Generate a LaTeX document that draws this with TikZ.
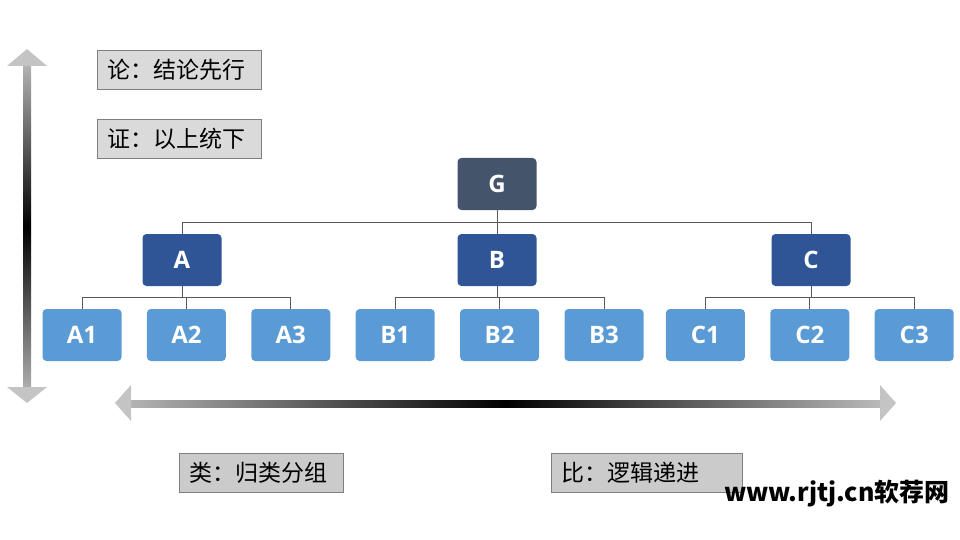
\documentclass[tikz,border=0pt]{standalone}
\usepackage{fontspec}
\setmainfont{Noto Sans CJK SC}
\newfontfamily\latinfont{Open Sans}
\usetikzlibrary{positioning}
\definecolor{slate}{HTML}{44546A}
\definecolor{navy}{HTML}{2F5597}
\definecolor{sky}{HTML}{5B9BD5}
\definecolor{boxgray}{HTML}{DADADA}
\definecolor{boxgraydark}{HTML}{CBCBCB}
\definecolor{rimgray}{HTML}{7F7F7F}
\definecolor{headgray}{HTML}{C4C4C4}

\begin{document}
\begin{tikzpicture}[x=1pt,y=-1pt,
	tag/.style={draw=rimgray, line width=1pt, fill=boxgray, anchor=north west,
		minimum height=39pt, inner ysep=0pt, inner xsep=10pt, text width=#1, align=left,
		font=\fontsize{23}{23}\selectfont},
	tree/.style={rounded corners=4pt, minimum width=79pt, minimum height=52pt,
		text=white, font=\latinfont\bfseries\fontsize{24}{24}\selectfont},
	leaf/.style={tree, fill=sky},
	wire/.style={draw=black!65, line width=0.8pt}]
		\useasboundingbox (0,0) rectangle (960,540);
		%\draw [help lines, step=20] (0,0) grid (960,540);
		% up-down arrow
		\shade [top color=gray!60, bottom color=gray!65, middle color=black] (23,66) rectangle (31,387);
		\fill [headgray] (27,49) -- (47,66) -- (7,66) -- cycle;
		\fill [headgray] (27,403) -- (47,387) -- (7,387) -- cycle;
		% left-right arrow
		\shade [left color=gray!60, right color=gray!55, middle color=black] (131,400) rectangle (880,407);
		\fill [headgray] (115,403) -- (131,385) -- (131,421) -- cycle;
		\fill [headgray] (896,403) -- (880,385) -- (880,421) -- cycle;
		% labels
		\node [tag=144pt] (lun) at (97,50) {论：结论先行};
		\node [tag=144pt] (zheng) at (97,119) {证：以上统下};
		\node [tag=144pt, fill=boxgraydark] (lei) at (179,453) {类：归类分组};
		\node [tag=171pt, fill=boxgraydark] (bi) at (551,453) {比：逻辑递进};
		% tree
		\node [tree, fill=slate] (G) at (497,184) {G};
		\node [tree, fill=navy] (A) at (182,260) {A};
		\node [tree, fill=navy] (B) at (497,260) {B};
		\node [tree, fill=navy] (C) at (811,260) {C};
		\node [leaf] (A1) at (82,335) {A1};
		\node [leaf, right=25pt of A1] (A2) {A2};
		\node [leaf, right=25pt of A2] (A3) {A3};
		\node [leaf, right=25pt of A3] (B1) {B1};
		\node [leaf, right=25pt of B1] (B2) {B2};
		\node [leaf, right=25pt of B2] (B3) {B3};
		\node [leaf, right=22pt of B3] (C1) {C1};
		\node [leaf, right=25pt of C1] (C2) {C2};
		\node [leaf, right=25pt of C2] (C3) {C3};
		\draw [wire] (G.south) -- ++(0,12) coordinate (gbus);
		\draw [wire] (gbus) -| (A.north);
		\draw [wire] (gbus) -| (C.north);
		\draw [wire] (gbus) -- (B.north);
		\foreach \p in {A,B,C} {
			\draw [wire] (\p.south) -- ++(0,11) coordinate (\p bus);
			\foreach \k in {1,2,3}
				\draw [wire] (\p bus) -| (\p\k.north);
		}
		\node [anchor=east, inner sep=0pt, font=\bfseries\fontsize{25}{25}\selectfont] (mark) at (950,494) {www.rjtj.cn软荐网};
	\end{tikzpicture}
\end{document}
